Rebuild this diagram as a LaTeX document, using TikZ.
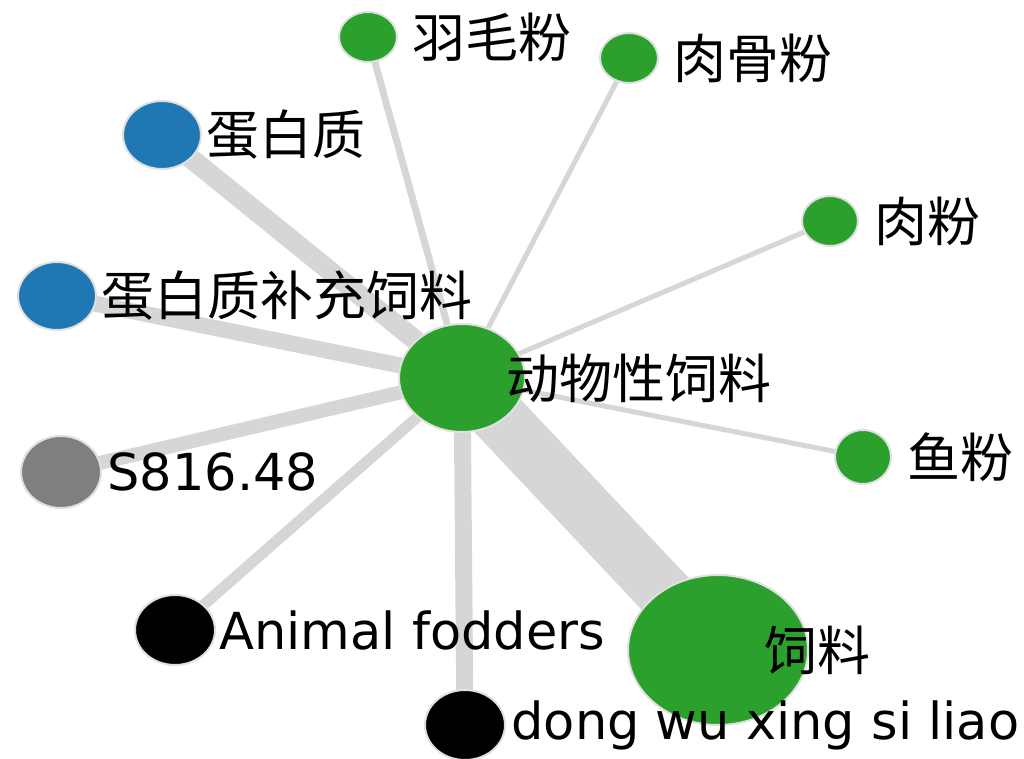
\documentclass[tikz,border=0pt]{standalone}
\usepackage{fontspec}
\setmainfont{DejaVu Sans}
\newfontfamily\cjk{Noto Sans CJK SC}
\usetikzlibrary{shapes.geometric, backgrounds}
\definecolor{kgreen}{RGB}{44,160,44}
\definecolor{kblue}{RGB}{31,119,180}
\definecolor{kgray}{RGB}{127,127,127}
\definecolor{kedge}{RGB}{214,214,214}

\begin{document}
\begin{tikzpicture}[x=0.5pt, y=-0.5pt,
  gnode/.style={ellipse, inner sep=0pt, draw=black!12, line width=1pt},
  txt/.style={anchor=west, inner sep=0pt, font=\fontsize{25.5}{28}\selectfont},
  ztxt/.style={txt, font=\fontsize{26.5}{29}\selectfont\cjk},
  link/.style={draw=kedge, line cap=butt}]

\useasboundingbox (0,0) rectangle (1024,759);

  % Nodes
  \node[gnode, fill=kgreen, minimum width=63pt, minimum height=54pt] (hub) at (462,378) {};
  \node[gnode, fill=kgreen, minimum width=29pt, minimum height=25pt] (yumao) at (368,37) {};
  \node[gnode, fill=kgreen, minimum width=29pt, minimum height=25pt] (rougu) at (629,58) {};
  \node[gnode, fill=kblue, minimum width=39pt, minimum height=34pt] (danbai) at (162,135) {};
  \node[gnode, fill=kgreen, minimum width=28pt, minimum height=25pt] (roufen) at (830,221) {};
  \node[gnode, fill=kblue, minimum width=39pt, minimum height=34pt] (buchong) at (57,296) {};
  \node[gnode, fill=kgreen, minimum width=28pt, minimum height=27pt] (yufen) at (863,457) {};
  \node[gnode, fill=kgray, minimum width=40pt, minimum height=36pt] (code) at (61,472) {};
  \node[gnode, fill=black, minimum width=40pt, minimum height=35pt] (fodder) at (175,630) {};
  \node[gnode, fill=kgreen, minimum width=90pt, minimum height=75pt] (siliao) at (718,650) {};
  \node[gnode, fill=black, minimum width=40pt, minimum height=35pt] (pinyin) at (465,725) {};

  % Edges
  \begin{scope}[on background layer]
  \draw[link, line width=28pt] (hub.center) -- (siliao.center);
  \draw[link, line width=10pt] (hub.center) -- (danbai.center);
  \draw[link, line width=8pt] (hub.center) -- (buchong.center);
  \draw[link, line width=8.5pt] (hub.center) -- (pinyin.center);
  \draw[link, line width=7pt] (hub.center) -- (code.center);
  \draw[link, line width=5.5pt] (hub.center) -- (fodder.center);
  \draw[link, line width=3.5pt] (hub.center) -- (yumao.center);
  \draw[link, line width=2.5pt] (hub.center) -- (rougu.center);
  \draw[link, line width=2.5pt] (hub.center) -- (roufen.center);
  \draw[link, line width=2.5pt] (hub.center) -- (yufen.center);
  \end{scope}

  % Labels
  \node[ztxt] (hub-l) at ([xshift=22pt]hub.center) {动物性饲料};
  \node[ztxt] (yumao-l) at ([xshift=22pt]yumao.center) {羽毛粉};
  \node[ztxt] (rougu-l) at ([xshift=22pt]rougu.center) {肉骨粉};
  \node[ztxt] (danbai-l) at ([xshift=22pt]danbai.center) {蛋白质};
  \node[ztxt] (roufen-l) at ([xshift=22pt]roufen.center) {肉粉};
  \node[ztxt] (buchong-l) at ([xshift=22pt]buchong.center) {蛋白质补充饲料};
  \node[ztxt] (yufen-l) at ([xshift=22pt]yufen.center) {鱼粉};
  \node[txt] (code-l) at ([xshift=23pt]code.center) {S816.48};
  \node[txt] (fodder-l) at ([xshift=22pt]fodder.center) {Animal fodders};
  \node[ztxt] (siliao-l) at ([xshift=23pt]siliao.center) {饲料};
  \node[txt] (pinyin-l) at ([xshift=23pt]pinyin.center) {dong wu xing si liao};

\end{tikzpicture}
\end{document}
